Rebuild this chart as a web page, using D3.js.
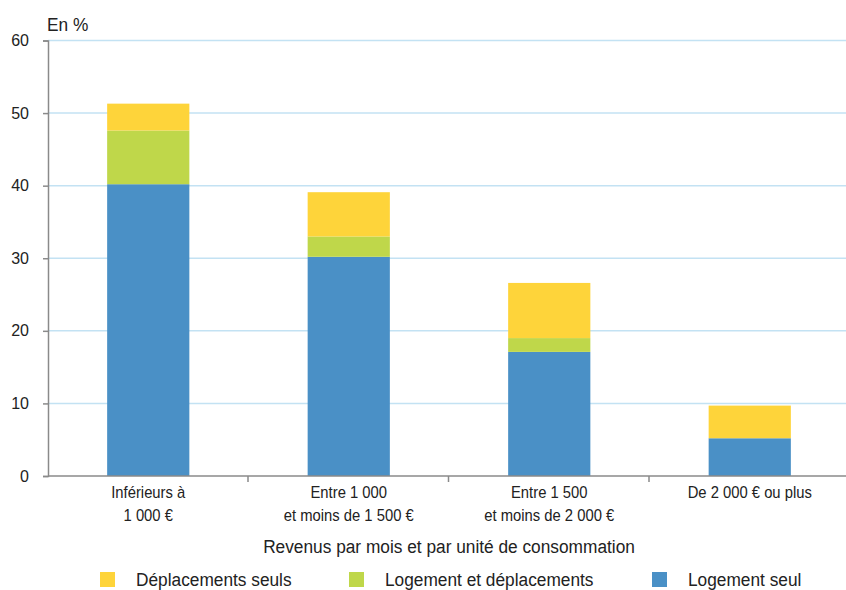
<!DOCTYPE html>
<html>
<head>
<meta charset="utf-8">
<script src="https://cdn.jsdelivr.net/npm/d3@7"></script>
<style>
  body { margin: 0; background: #fff; }
  text { font-family: "Liberation Sans", Arial, sans-serif; fill: #222; }
</style>
</head>
<body>
<div id="chart"></div>
<script>
// Data
const categories = [
  ["Inférieurs à", "1 000 €"],
  ["Entre 1 000", "et moins de 1 500 €"],
  ["Entre 1 500", "et moins de 2 000 €"],
  ["De 2 000 € ou plus"]
];
const seriesNames = ["Logement seul", "Logement et déplacements", "Déplacements seuls"];
const logementSeul        = [40.2, 30.2, 17.1, 5.2];
const logementDeplacement = [7.4, 2.8, 1.9, 0];
const deplacementsSeuls   = [3.7, 6.1, 7.6, 4.5];
const yTicks = [0, 10, 20, 30, 40, 50, 60];

const colors = {
  "Logement seul": "#4a90c6",
  "Logement et déplacements": "#bfd74a",
  "Déplacements seuls": "#fed43a"
};

// Layout
const width = 846, height = 590;
const margin = { top: 40.5, right: -4, bottom: 114, left: 48 };

const svg = d3.select("#chart").append("svg")
  .attr("width", width)
  .attr("height", height);

// squeeze text horizontally a little, the reference uses a condensed face
function squeeze(sel, k) {
  sel.each(function() {
    const len = this.getComputedTextLength();
    d3.select(this).attr("textLength", len * k).attr("lengthAdjust", "spacingAndGlyphs");
  });
}

const keys = categories.map(c => c.join(" "));
const rows = keys.map((k, i) => ({
  key: k,
  "Logement seul": logementSeul[i],
  "Logement et déplacements": logementDeplacement[i],
  "Déplacements seuls": deplacementsSeuls[i]
}));

const x = d3.scaleBand()
  .domain(keys)
  .range([margin.left, width - margin.right])
  .paddingInner(0.59)
  .paddingOuter(0.295);

const y = d3.scaleLinear()
  .domain([0, 60])
  .range([height - margin.bottom, margin.top]);

// Gridlines
svg.append("g")
  .selectAll("line")
  .data(yTicks.filter(d => d > 0))
  .join("line")
  .attr("x1", margin.left)
  .attr("x2", width)
  .attr("y1", d => y(d))
  .attr("y2", d => y(d))
  .attr("stroke", "#c3e2f3")
  .attr("stroke-width", 1.5);

// Stacked bars
const stack = d3.stack().keys(seriesNames);
const layers = stack(rows);

svg.append("g")
  .selectAll("g")
  .data(layers)
  .join("g")
  .attr("fill", d => colors[d.key])
  .selectAll("rect")
  .data(d => d)
  .join("rect")
  .attr("x", d => x(d.data.key))
  .attr("width", x.bandwidth())
  .attr("y", d => y(d[1]))
  .attr("height", d => y(d[0]) - y(d[1]));

// Y axis
const yAxisG = svg.append("g")
  .attr("transform", `translate(${margin.left},0)`)
  .call(d3.axisLeft(y).tickValues(yTicks).tickSize(5).tickPadding(14));
yAxisG.select(".domain").attr("stroke", "#8a8a8a").attr("stroke-width", 1.5);
yAxisG.selectAll(".tick line").attr("stroke", "#8a8a8a").attr("stroke-width", 1.5);
yAxisG.selectAll(".tick text")
  .attr("font-size", 16)
  .attr("fill", "#222")
  .attr("font-family", "Liberation Sans, Arial, sans-serif");

// X axis line with ticks at category boundaries
const y0 = y(0);
svg.append("line")
  .attr("x1", margin.left).attr("x2", width)
  .attr("y1", y0).attr("y2", y0)
  .attr("stroke", "#8a8a8a").attr("stroke-width", 1.5);

const step = x.step();
const boundaries = keys.slice(1).map(k => x(k) - x.paddingInner() * step / 2 - 0.5);
svg.append("g")
  .selectAll("line")
  .data(boundaries)
  .join("line")
  .attr("x1", d => d).attr("x2", d => d)
  .attr("y1", y0).attr("y2", y0 + 6)
  .attr("stroke", "#8a8a8a").attr("stroke-width", 1.5);

// Category labels
const catG = svg.append("g");
categories.forEach((lines, i) => {
  const cx = x(keys[i]) + x.bandwidth() / 2;
  lines.forEach((line, j) => {
    catG.append("text")
      .attr("x", cx)
      .attr("y", 498 + j * 22.5)
      .attr("text-anchor", "middle")
      .attr("font-size", 17)
      .text(line);
  });
});
squeeze(catG.selectAll("text"), 0.87);

// Unit label
svg.append("text")
  .attr("x", 47)
  .attr("y", 31)
  .attr("font-size", 18)
  .text("En %")
  .call(squeeze, 0.96);

// X axis title
svg.append("text")
  .attr("x", (margin.left + width - margin.right) / 2)
  .attr("y", 553)
  .attr("text-anchor", "middle")
  .attr("font-size", 18)
  .text("Revenus par mois et par unité de consommation")
  .call(squeeze, 0.96);

// Legend
const legendItems = [
  { name: "Déplacements seuls", x: 100 },
  { name: "Logement et déplacements", x: 349 },
  { name: "Logement seul", x: 652 }
];
const lg = svg.append("g");
legendItems.forEach(item => {
  lg.append("rect")
    .attr("x", item.x)
    .attr("y", 572)
    .attr("width", 15)
    .attr("height", 15)
    .attr("fill", colors[item.name]);
  lg.append("text")
    .attr("x", item.x + 36)
    .attr("y", 586)
    .attr("font-size", 18)
    .text(item.name)
    .call(squeeze, 0.96);
});
</script>
</body>
</html>
